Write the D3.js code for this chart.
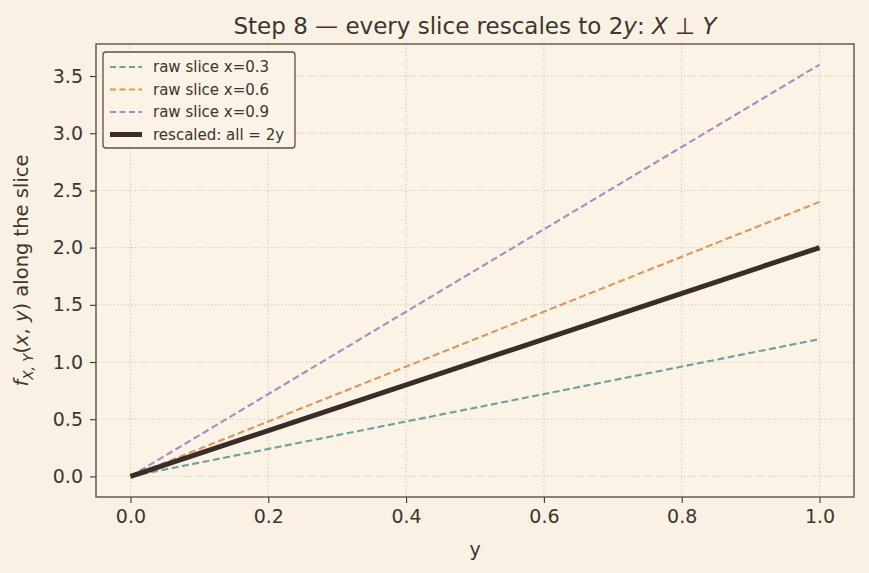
<!DOCTYPE html>
<html><head><meta charset="utf-8">
<script src="https://cdn.jsdelivr.net/npm/d3@7"></script>
<style>body{margin:0;background:#f9f1e3;}svg{display:block;font-family:"DejaVu Sans",sans-serif;}</style>
</head><body>
<svg id="c" width="869" height="573"></svg>
<script>
const yValues = [0, 1];
const sliceLabels = ["raw slice x=0.3", "raw slice x=0.6", "raw slice x=0.9"];
const sliceSlopes = [1.2, 2.4, 3.6];
const sliceColors = ["#6fa09c", "#e0955a", "#a98bbf"];
const rescaledLabel = "rescaled: all = 2y";
const rescaledValues = [0, 2];
const xTicks = [0, 0.2, 0.4, 0.6, 0.8, 1.0];
const yTicks = [0, 0.5, 1.0, 1.5, 2.0, 2.5, 3.0, 3.5];

const svg = d3.select("#c");
const L = 96, R = 854, T = 44, B = 497;
const x = d3.scaleLinear().domain([-0.05, 1.05]).range([L, R]);
const y = d3.scaleLinear().domain([-0.18, 3.78]).range([B, T]);
const ink = "#3d3530";

svg.append("rect").attr("width", 869).attr("height", 573).attr("fill", "#f9f1e3");
svg.append("rect").attr("x", L).attr("y", T).attr("width", R - L).attr("height", B - T).attr("fill", "#faf3e6");

// grid
const g = svg.append("g");
xTicks.forEach(t => g.append("line").attr("x1", x(t)).attr("x2", x(t)).attr("y1", T).attr("y2", B)
  .attr("stroke", "#c9c2b6").attr("stroke-width", 0.8).attr("stroke-dasharray", "1.5,2"));
yTicks.forEach(t => g.append("line").attr("y1", y(t)).attr("y2", y(t)).attr("x1", L).attr("x2", R)
  .attr("stroke", "#c9c2b6").attr("stroke-width", 0.8).attr("stroke-dasharray", "1.5,2"));

// axes
const xa = svg.append("g").attr("transform", `translate(0,${B})`)
  .call(d3.axisBottom(x).tickValues(xTicks).tickFormat(d3.format(".1f")).tickSize(6).tickPadding(7));
const ya = svg.append("g").attr("transform", `translate(${L},0)`)
  .call(d3.axisLeft(y).tickValues(yTicks).tickFormat(d3.format(".1f")).tickSize(6).tickPadding(7));
[xa, ya].forEach(a => {
  a.select(".domain").remove();
  a.selectAll("line").attr("stroke", ink).attr("stroke-width", 1.1);
  a.selectAll("text").attr("fill", ink).attr("font-size", 19).attr("font-family", "DejaVu Sans");
});

const line = d3.line().x(d => x(d[0])).y(d => y(d[1]));
sliceSlopes.forEach((s, i) => {
  svg.append("path").datum(yValues.map(v => [v, s * v])).attr("d", line)
    .attr("fill", "none").attr("stroke", sliceColors[i]).attr("stroke-width", 2.1)
    .attr("stroke-dasharray", "7,3.5");
});
svg.append("path").datum(yValues.map((v, i) => [v, rescaledValues[i]])).attr("d", line)
  .attr("fill", "none").attr("stroke", "#3a2d28").attr("stroke-width", 5);

// frame
svg.append("rect").attr("x", L).attr("y", T).attr("width", R - L).attr("height", B - T)
  .attr("fill", "none").attr("stroke", "#5a5048").attr("stroke-width", 1.4);

// title
svg.append("text").attr("x", (L + R) / 2).attr("y", 34).attr("text-anchor", "middle")
  .attr("font-size", 23).attr("fill", ink)
  .html('Step 8 — every slice rescales to 2<tspan font-style="italic">y</tspan>: <tspan font-style="italic">X</tspan> ⊥ <tspan font-style="italic">Y</tspan>');

svg.append("text").attr("x", (L + R) / 2).attr("y", 556).attr("text-anchor", "middle")
  .attr("font-size", 19).attr("fill", ink).text("y");

svg.append("text").attr("transform", `translate(28,${(T + B) / 2}) rotate(-90)`).attr("text-anchor", "middle")
  .attr("font-size", 19.5).attr("fill", ink)
  .html('<tspan font-style="italic">f</tspan><tspan font-style="italic" font-size="13.5" dy="5">X, Y</tspan><tspan dy="-5">(</tspan><tspan font-style="italic">x</tspan>, <tspan font-style="italic">y</tspan>) along the slice');

// legend
const lg = svg.append("g");
lg.append("rect").attr("x", 103).attr("y", 52).attr("width", 192).attr("height", 96).attr("rx", 3)
  .attr("fill", "#faf3e6").attr("stroke", "#5a5048").attr("stroke-width", 1.3);
const items = sliceLabels.map((l, i) => ({label: l, color: sliceColors[i], dash: "6,3.5", w: 2.1}))
  .concat([{label: rescaledLabel, color: "#3a2d28", dash: null, w: 5}]);
items.forEach((it, i) => {
  const yy = 67 + i * 22.5;
  lg.append("line").attr("x1", 110).attr("x2", 142).attr("y1", yy).attr("y2", yy)
    .attr("stroke", it.color).attr("stroke-width", it.w).attr("stroke-dasharray", it.dash);
  lg.append("text").attr("x", 153).attr("y", yy + 5).attr("font-size", 15).attr("fill", ink).text(it.label);
});
</script>
</body></html>
